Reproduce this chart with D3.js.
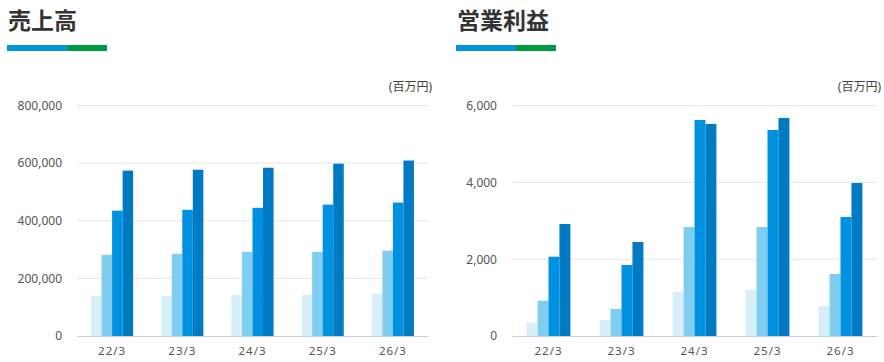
<!DOCTYPE html>
<html>
<head>
<meta charset="utf-8">
<script src="https://d3js.org/d3.v7.min.js"></script>
<style>
  body { margin: 0; background: #fff; }
  text { font-family: "Noto Sans", "Noto Sans CJK JP", sans-serif; }
</style>
</head>
<body>
<svg id="chart" width="884" height="362"></svg>
<script>
// periods on the x axis
var categories = ["22/3", "23/3", "24/3", "25/3", "26/3"];
var seriesKeys = ["s1", "s2", "s3", "s4"];
var seriesColors = ["#d7eff9", "#80cdf2", "#0091e1", "#007bc3"];

// 売上高 (百万円)
var salesS1 = [139000, 139000, 143000, 143000, 146000];
var salesS2 = [282000, 285000, 292000, 292000, 296000];
var salesS3 = [435000, 438000, 445000, 456000, 463000];
var salesS4 = [574000, 577000, 584000, 598000, 609000];
var salesTicks = [0, 200000, 400000, 600000, 800000];

// 営業利益 (百万円)
var profitS1 = [346, 416, 1145, 1197, 781];
var profitS2 = [918, 703, 2837, 2837, 1614];
var profitS3 = [2064, 1848, 5622, 5362, 3097];
var profitS4 = [2915, 2447, 5518, 5674, 3982];
var profitTicks = [0, 2000, 4000, 6000];

var svg = d3.select("#chart");

function drawPanel(opt) {
    var g = svg.append("g");

    // title + two-colour underline
    g.append("text")
        .attr("x", opt.titleX)
        .attr("y", 29)
        .attr("font-family", "'Noto Sans CJK JP', sans-serif")
        .attr("font-size", "23px")
        .attr("font-weight", "bold")
        .attr("fill", "#333")
        .text(opt.title);
    g.append("rect").attr("x", opt.titleX - 1).attr("y", 45).attr("width", 60).attr("height", 6).attr("fill", "#0095e0");
    g.append("rect").attr("x", opt.titleX + 59).attr("y", 45).attr("width", 40).attr("height", 6).attr("fill", "#009944");

    var x0 = d3.scaleBand().domain(categories).range([opt.plotX0, opt.plotX1]).paddingInner(0.4).paddingOuter(0.2);
    var x1 = d3.scaleBand().domain(seriesKeys).range([0, x0.bandwidth()]);
    var y = d3.scaleLinear().domain([0, opt.yMax]).range([336, 105.5]);

    // gridlines
    g.append("g")
        .selectAll("line")
        .data(opt.ticks.filter(function (d) { return d > 0; }))
        .enter().append("line")
        .attr("x1", opt.plotX0).attr("x2", opt.plotX1)
        .attr("y1", function (d) { return y(d); })
        .attr("y2", function (d) { return y(d); })
        .attr("stroke", "#e5e5e5");

    // y axis labels
    var yAxis = g.append("g")
        .attr("transform", "translate(" + opt.labelX + ",0)")
        .call(d3.axisLeft(y).tickValues(opt.ticks).tickSize(0).tickPadding(0).tickFormat(d3.format(",")));
    yAxis.select(".domain").remove();
    yAxis.selectAll("text").attr("font-size", "12px").attr("fill", "#555").attr("font-family", "'Noto Sans', sans-serif");

    // unit label
    g.append("text")
        .attr("x", opt.plotX1 + 4)
        .attr("y", 91)
        .attr("text-anchor", "end")
        .attr("font-family", "'Noto Sans CJK JP', sans-serif")
        .attr("font-size", "12px")
        .attr("fill", "#444")
        .text("(百万円)");

    // bars
    var rows = categories.map(function (c, i) {
        return { cat: c, vals: opt.series.map(function (s, j) { return { key: seriesKeys[j], v: s[i] }; }) };
    });
    var grp = g.selectAll(".grp")
        .data(rows)
        .enter().append("g")
        .attr("transform", function (d) { return "translate(" + x0(d.cat) + ",0)"; });
    grp.selectAll("rect")
        .data(function (d) { return d.vals; })
        .enter().append("rect")
        .attr("x", function (d) { return x1(d.key); })
        .attr("width", x1.bandwidth())
        .attr("y", function (d) { return y(d.v); })
        .attr("height", function (d) { return y(0) - y(d.v); })
        .attr("fill", function (d, j) { return seriesColors[j]; });

    // x axis
    var xAxis = g.append("g")
        .attr("transform", "translate(0,336)")
        .call(d3.axisBottom(x0).tickSize(0).tickPadding(11));
    xAxis.select(".domain").attr("stroke", "#c5d0e3");
    xAxis.selectAll("text").attr("font-size", "11.5px").attr("fill", "#555").attr("letter-spacing", "1px").attr("font-family", "'Noto Sans', sans-serif");
}

drawPanel({
    titleX: 8, title: "売上高",
    plotX0: 77, plotX1: 428, labelX: 62,
    yMax: 800000, ticks: salesTicks,
    series: [salesS1, salesS2, salesS3, salesS4]
});

drawPanel({
    titleX: 457, title: "営業利益",
    plotX0: 512, plotX1: 877, labelX: 497,
    yMax: 6000, ticks: profitTicks,
    series: [profitS1, profitS2, profitS3, profitS4]
});
</script>
</body>
</html>
